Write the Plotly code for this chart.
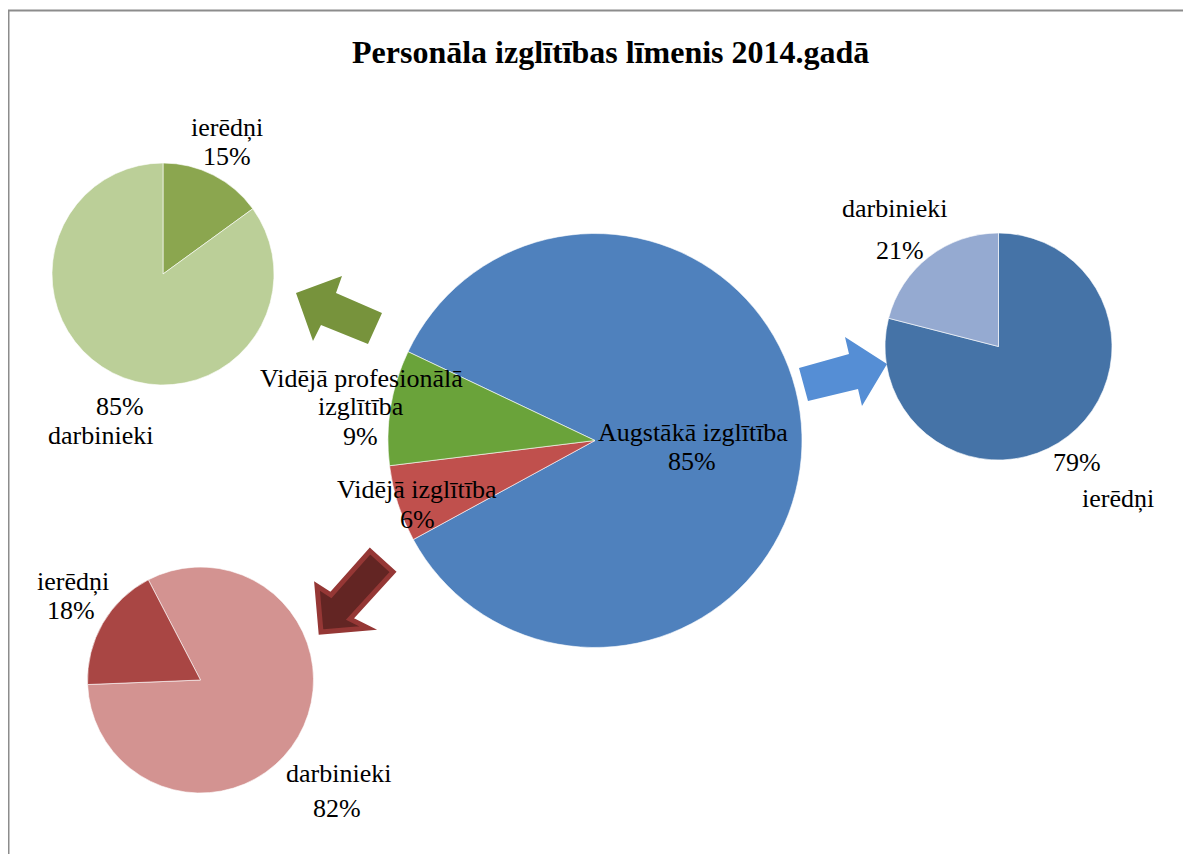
import plotly.graph_objects as go

W, H = 1191, 854
OX, OY = 8, 8  # page body margin offset of the figure

title_text = "Personāla izglītības līmenis 2014.gadā"

main_labels = ["Augstākā izglītība", "Vidējā izglītība", "Vidējā profesionālā izglītība"]
main_values = [85, 6, 9]
main_colors = ["#4F81BD", "#C0504D", "#6AA33A"]

prof_labels = ["ierēdņi", "darbinieki"]
prof_values = [15, 85]
prof_colors = ["#8BA64F", "#BBCF98"]

high_labels = ["ierēdņi", "darbinieki"]
high_values = [79, 21]
high_colors = ["#4573A7", "#95AAD1"]

sec_labels = ["darbinieki", "ierēdņi"]
sec_values = [82, 18]
sec_colors = ["#D39391", "#A94644"]

FONT = "Liberation Serif, Times New Roman, serif"


def px(x):
    return (x - OX) / W


def py(y):
    return 1 - (y - OY) / H


def dom(cx, cy, r):
    return dict(x=[px(cx - r), px(cx + r)], y=[py(cy + r), py(cy - r)])


fig = go.Figure()

pies = [
    (main_labels, main_values, main_colors, (595, 440.5, 207), -64.6),
    (prof_labels, prof_values, prof_colors, (163, 274, 111), 0),
    (high_labels, high_values, high_colors, (998.5, 346.5, 113.5), 0),
    (sec_labels, sec_values, sec_colors, (200.5, 680, 113), -27.5),
]
for labels, values, colors, (cx, cy, r), rot in pies:
    fig.add_trace(go.Pie(
        labels=labels, values=values, sort=False, direction="clockwise",
        rotation=rot, domain=dom(cx, cy, r), textinfo="none",
        marker=dict(colors=colors, line=dict(color="rgba(255,255,255,0.6)", width=1)),
        showlegend=False, hoverinfo="label+percent",
    ))

# label annotations: (text, x, y)
lab = []
lab += [(prof_labels[0], 227, 128), (f"{prof_values[0]}%", 227, 157)]
lab += [(f"{prof_values[1]}%", 120, 406), (prof_labels[1], 100, 435)]
lab += [("Vidējā profesionālā", 361, 378), ("izglītība", 361, 407), (f"{main_values[2]}%", 360, 436)]
lab += [(main_labels[1], 417, 490), (f"{main_values[1]}%", 417, 519)]
lab += [(main_labels[0], 693, 432), (f"{main_values[0]}%", 692, 461)]
lab += [(high_labels[1], 894, 208), (f"{high_values[1]}%", 900, 251)]
lab += [(f"{high_values[0]}%", 1077, 462), (high_labels[0], 1118, 498)]
lab += [(sec_labels[1], 73, 581), (f"{sec_values[1]}%", 71, 610)]
lab += [(sec_labels[0], 338, 773), (f"{sec_values[0]}%", 337, 808)]

annotations = [dict(text=t, x=px(x), y=py(y), xref="paper", yref="paper",
                    xanchor="center", yanchor="middle", showarrow=False,
                    font=dict(family=FONT, size=26, color="#000000"))
               for t, x, y in lab]
annotations.append(dict(text=f"<b>{title_text}</b>", x=px(610.5), y=py(52), xref="paper", yref="paper",
                        xanchor="center", yanchor="middle", showarrow=False,
                        font=dict(family=FONT, size=32, color="#000000")))


def path(points):
    return "M " + " L ".join(f"{px(x):.5f},{py(y):.5f}" for x, y in points) + " Z"


green_arrow = [(296, 293), (342, 276), (336, 293), (382, 313), (368, 344), (321, 325), (313, 341)]
blue_arrow = [(799, 368), (808, 401), (858, 389), (862, 406), (887, 364), (845, 337), (849, 354)]
red_arrow = [(370, 551), (393, 572), (350, 619), (368, 628), (321, 632), (317, 586), (331, 595)]

shapes = [
    dict(type="path", xref="paper", yref="paper", path=path(green_arrow),
         fillcolor="#77933C", line=dict(width=0)),
    dict(type="path", xref="paper", yref="paper", path=path(blue_arrow),
         fillcolor="#558ED5", line=dict(width=0)),
    dict(type="path", xref="paper", yref="paper", path=path(red_arrow),
         fillcolor="#632523", line=dict(color="#953735", width=5)),
    dict(type="rect", xref="paper", yref="paper", x0=px(8.5), y0=-0.02, x1=1.02, y1=py(10.5),
         line=dict(color="#8C8C8C", width=2), fillcolor="rgba(0,0,0,0)"),
]

fig.update_layout(
    width=W, height=H, margin=dict(l=0, r=0, t=0, b=0),
    paper_bgcolor="white", plot_bgcolor="white",
    annotations=annotations, shapes=shapes, showlegend=False,
)

fig.write_html("out.html")
